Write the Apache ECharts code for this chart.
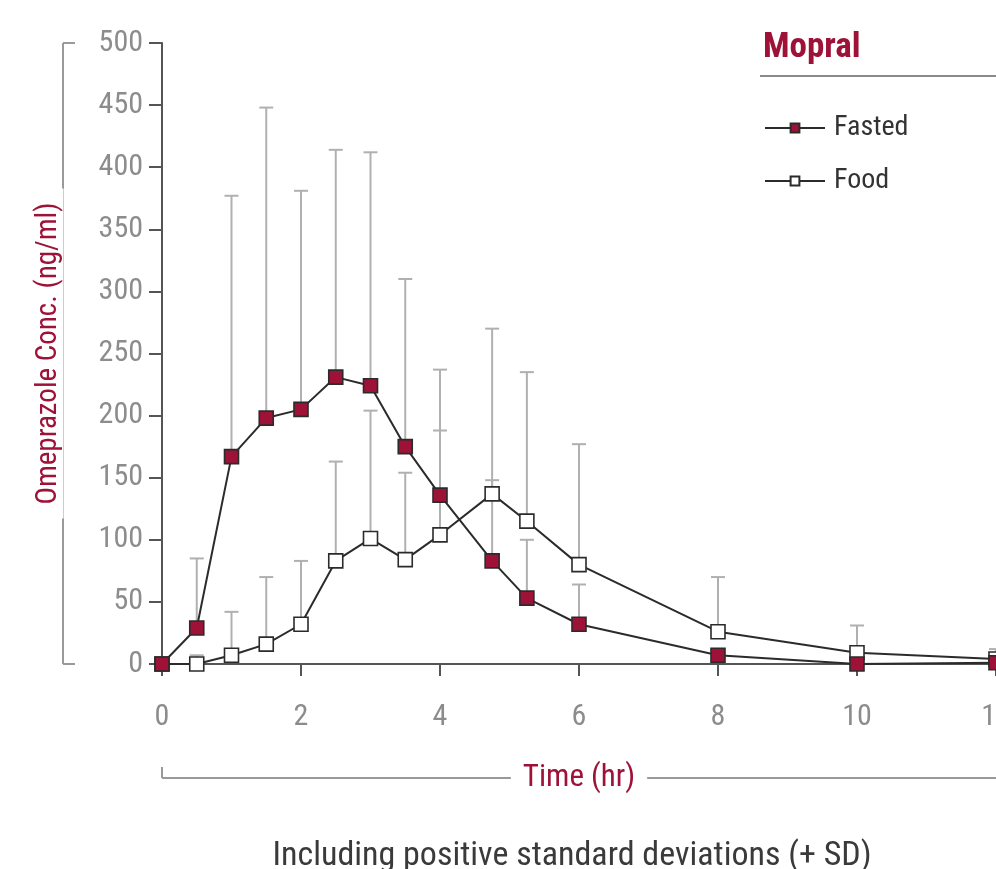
<!DOCTYPE html>
<html>
<head>
<meta charset="utf-8">
<script src="https://cdn.jsdelivr.net/npm/echarts@6/dist/echarts.min.js"></script>
<style>html,body{margin:0;padding:0;background:#fff}#c{width:996px;height:869px}</style>
</head>
<body>
<div id="c"></div>
<script>
const times = [0, 0.5, 1, 1.5, 2, 2.5, 3, 3.5, 4, 4.75, 5.25, 6, 8, 10, 12];
const fasted = [0, 29, 167, 198, 205, 231, 224, 175, 136, 83, 53, 32, 7, 0, 1];
const food = [0, 0, 7, 16, 32, 83, 101, 84, 104, 137, 115, 80, 26, 9, 4];
const fastedSD = [null, 85, 377, 448, 381, 414, 412, 310, 237, 148, 100, 64, null, null, null];
const foodSD = [null, 7, 42, 70, 83, 163, 204, 154, 188, 270, 235, 177, 70, 31, 12];
const xTicks = [0, 2, 4, 6, 8, 10, 12];
const yTicks = [0, 50, 100, 150, 200, 250, 300, 350, 400, 450, 500];

const FONT = '"Roboto Condensed","Open Sans Condensed","Noto Sans Condensed","DejaVu Sans Condensed",sans-serif';
const RED = '#9e1238';

function sdData(vals) {
  const out = [];
  times.forEach((t, i) => { if (vals[i] != null) out.push([t, vals[i]]); });
  return out;
}
function meanFor(series, t) { return series[times.indexOf(t)]; }

function errSeries(name, vals, means) {
  return {
    type: 'custom', name: name, z: 1, silent: true,
    data: sdData(vals).map(d => [d[0], meanFor(means, d[0]), d[1]]),
    encode: { x: 0, y: [1, 2] },
    renderItem: function (params, api) {
      const x = api.value(0);
      const lo = api.coord([x, api.value(1)]);
      const hi = api.coord([x, api.value(2)]);
      const hw = 7;
      const st = { stroke: '#b0b0b0', lineWidth: 2 };
      return { type: 'group', children: [
        { type: 'line', shape: { x1: lo[0], y1: lo[1], x2: hi[0], y2: hi[1] }, style: st },
        { type: 'line', shape: { x1: hi[0] - hw, y1: hi[1], x2: hi[0] + hw, y2: hi[1] }, style: st }
      ]};
    }
  };
}

const chart = echarts.init(document.getElementById('c'), null, { renderer: 'canvas' });
const option = {
  backgroundColor: '#fff',
  animation: false,
  title: [
    { text: 'Mopral', left: 758, top: 26, textStyle: { fontFamily: FONT, fontSize: 35, fontWeight: 'bold', color: RED } },
    { text: 'Including positive standard deviations (+ SD)', top: 834, left: 567, textAlign: 'center', textStyle: { fontFamily: FONT, fontSize: 34, fontWeight: 'normal', color: '#3a3a3a' } }
  ],
  legend: {
    orient: 'vertical', left: 759, top: 109, itemGap: 25,
    itemWidth: 60, itemHeight: 11,
    data: ['Fasted', 'Food'],
    textStyle: { fontFamily: FONT, fontSize: 28, color: '#333', padding: [0, 0, 0, 4] }
  },
  grid: { left: 162, right: 0, top: 43, bottom: 205, containLabel: false, outerBoundsMode: 'none' },
  xAxis: {
    type: 'value', min: 0, max: 12, interval: 2,
    name: 'Time (hr)', nameLocation: 'middle', nameGap: 114,
    nameTextStyle: { fontFamily: FONT, fontSize: 31, color: RED, backgroundColor: '#fff', padding: [0, 12], verticalAlign: 'middle' },
    axisLine: { lineStyle: { color: '#555', width: 2 } },
    axisTick: { show: true, length: 12, lineStyle: { color: '#555', width: 2 } },
    axisLabel: { fontFamily: FONT, fontSize: 30, color: '#8c8c8c', margin: 38, showMaxLabel: true, hideOverlap: false },
    splitLine: { show: false }
  },
  yAxis: {
    type: 'value', min: 0, max: 500, interval: 50,
    name: 'Omeprazole Conc. (ng/ml)', nameLocation: 'middle', nameGap: 113, nameRotate: 90,
    nameTextStyle: { fontFamily: FONT, fontSize: 29, color: RED, backgroundColor: '#fff', padding: [0, 14], verticalAlign: 'middle' },
    axisLine: { show: true, lineStyle: { color: '#555', width: 2 } },
    axisTick: { show: true, length: 13, lineStyle: { color: '#555', width: 2 } },
    axisLabel: { fontFamily: FONT, fontSize: 30, color: '#8c8c8c', margin: 19 },
    splitLine: { show: false }
  },
  series: [
    errSeries('sdFood', foodSD, food),
    errSeries('sdFasted', fastedSD, fasted),
    {
      name: 'Food', type: 'line', z: 3,
      data: times.map((t, i) => [t, food[i]]),
      symbol: 'rect', symbolSize: 14, showAllSymbol: true,
      lineStyle: { color: '#2b2b2b', width: 2 },
      itemStyle: { color: '#fff', borderColor: '#2b2b2b', borderWidth: 1.6 }
    },
    {
      name: 'Fasted', type: 'line', z: 4,
      data: times.map((t, i) => [t, fasted[i]]),
      symbol: 'rect', symbolSize: 14, showAllSymbol: true,
      lineStyle: { color: '#2b2b2b', width: 2 },
      itemStyle: { color: RED, borderColor: '#2b2b2b', borderWidth: 1.6 }
    }
  ]
};
chart.setOption(option);

// Decorative brackets computed from the axes
const p0 = chart.convertToPixel({ gridIndex: 0 }, [0, 0]);
const pTop = chart.convertToPixel({ gridIndex: 0 }, [0, 500]);
const bx = p0[0] - 99;
const by = p0[1] + 114;
const g = '#9a9a9a';
chart.setOption({
  graphic: [
    { type: 'line', z: -1, shape: { x1: bx, y1: pTop[1], x2: bx, y2: p0[1] }, style: { stroke: g, lineWidth: 2 } },
    { type: 'line', z: -1, shape: { x1: bx, y1: pTop[1], x2: bx + 12, y2: pTop[1] }, style: { stroke: g, lineWidth: 2 } },
    { type: 'line', z: -1, shape: { x1: bx, y1: p0[1], x2: bx + 12, y2: p0[1] }, style: { stroke: g, lineWidth: 2 } },
    { type: 'line', z: -1, shape: { x1: p0[0], y1: by, x2: 996, y2: by }, style: { stroke: g, lineWidth: 2 } },
    { type: 'line', z: -1, shape: { x1: p0[0], y1: by - 11, x2: p0[0], y2: by }, style: { stroke: g, lineWidth: 2 } },
    { type: 'line', z: -1, shape: { x1: 760, y1: 76, x2: 996, y2: 76 }, style: { stroke: '#8a8a8a', lineWidth: 2 } }
  ]
});
</script>
</body>
</html>
